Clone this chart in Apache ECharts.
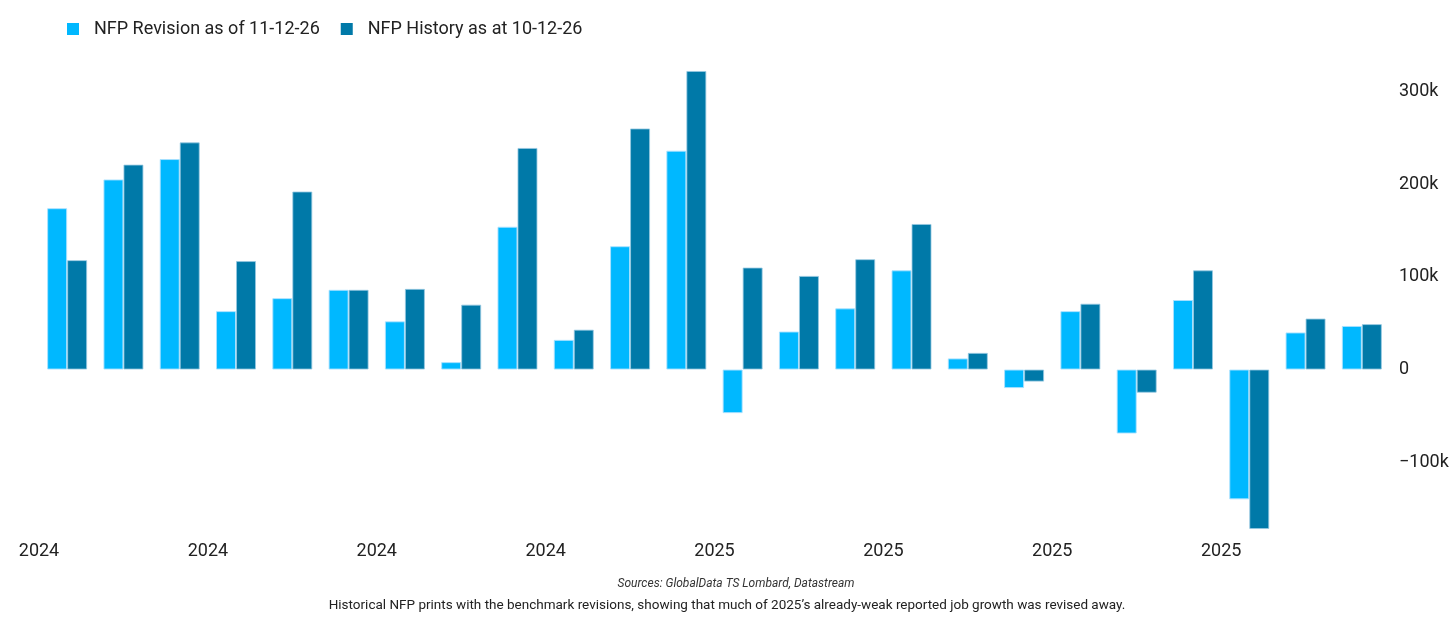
<!DOCTYPE html>
<html>
<head>
<meta charset="utf-8">
<script src="https://cdn.jsdelivr.net/npm/echarts@6/dist/echarts.min.js"></script>
<style>
html,body{margin:0;padding:0;background:#fff;}
#chart{width:1456px;height:625px;}
</style>
</head>
<body>
<div id="chart"></div>
<script>
// values in thousands of jobs
const categories = ['1','2','3','4','5','6','7','8','9','10','11','12','13','14','15','16','17','18','19','20','21','22','23','24'];
const revision = [174, 205, 227, 63, 77, 86, 52, 8, 154, 32, 133, 236, -47, 41, 66, 107, 12, -20, 63, -69, 75, -140, 40, 47];
const history  = [118, 221, 245, 117, 192, 86, 87, 70, 239, 43, 260, 322, 110, 101, 119, 157, 18, -13, 71, -25, 107, -172, 55, 49];
const yearTickLabels = ['2024','2024','2024','2024','2025','2025','2025','2025'];
const seriesNames = ['NFP Revision as of 11-12-26', 'NFP History as at 10-12-26'];
const sourceText = 'Sources: GlobalData TS Lombard, Datastream';
const captionText = 'Historical NFP prints with the benchmark revisions, showing that much of 2025\u2019s already-weak reported job growth was revised away.';

const chart = echarts.init(document.getElementById('chart'));
const font = 'Roboto';
chart.setOption({
  animation: false,
  textStyle: { fontFamily: font },
  title: [
    { text: sourceText, left: 731, top: 573, textAlign: 'center',
      textStyle: { fontFamily: font, fontSize: 12, fontStyle: 'italic', fontWeight: 'normal', color: '#333' } },
    { text: captionText, left: 722, top: 594, textAlign: 'center',
      textStyle: { fontFamily: font, fontSize: 13.5, fontWeight: 'normal', color: '#222' } }
  ],
  legend: {
    left: 62, top: 15, icon: 'rect', itemWidth: 12, itemHeight: 12, itemGap: 21,
    itemStyle: { borderWidth: 0 },
    textStyle: { fontFamily: font, fontSize: 18, color: '#222', padding: [0, 0, 0, 10] },
    data: seriesNames
  },
  grid: { left: 39, right: 66, top: 45, height: 510 },
  xAxis: [
    { type: 'category', data: categories, show: false, boundaryGap: true },
    { type: 'value', min: 0, max: 24, interval: 3, position: 'bottom', offset: -21,
      axisLine: { show: false }, axisTick: { show: false }, splitLine: { show: false },
      axisLabel: { show: true, showMaxLabel: false, fontFamily: font, fontSize: 18, color: '#222', margin: 8,
        formatter: v => yearTickLabels[Math.round(v / 3)] || '' } }
  ],
  yAxis: {
    type: 'value', position: 'right', min: -200, max: 350, interval: 100,
    axisLine: { show: false }, axisTick: { show: false }, splitLine: { show: false },
    axisLabel: { showMinLabel: false, showMaxLabel: false, fontFamily: font, fontSize: 18, color: '#222', margin: 9,
      formatter: v => v === 0 ? '0' : (v < 0 ? '\u2212' + (-v) + 'k' : v + 'k') }
  },
  series: [
    { name: seriesNames[0], type: 'bar', xAxisIndex: 0, data: revision, barWidth: 20, barGap: '0%',
      itemStyle: { color: '#00B8FF', borderColor: 'rgba(170,225,255,0.9)', borderWidth: 1 } },
    { name: seriesNames[1], type: 'bar', xAxisIndex: 0, data: history, barWidth: 20, barGap: '0%',
      itemStyle: { color: '#0079A8', borderColor: 'rgba(150,200,225,0.8)', borderWidth: 1 } }
  ]
});
</script>
</body>
</html>
